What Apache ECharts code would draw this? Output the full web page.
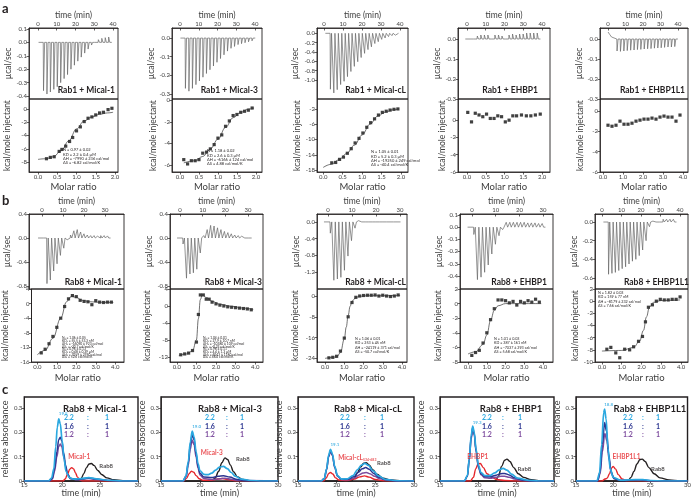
<!DOCTYPE html>
<html>
<head>
<meta charset="utf-8">
<script src="https://cdn.jsdelivr.net/npm/echarts@6/dist/echarts.min.js"></script>
<style>
  html, body { margin: 0; padding: 0; background: #fff; }
  #chart { width: 694px; height: 501px; }
</style>
</head>
<body>
<div id="chart"></div>
<script>
// ---------- tick labels ----------
const molar2Ticks = ['0.0', '0.5', '1.0', '1.5', '2.0'];
const molar4Ticks = ['0.0', '1.0', '2.0', '3.0', '4.0'];
const time40Ticks = ['0', '10', '20', '30', '40'];
const time30Ticks = ['0', '10', '20', '30'];
const secTimeTicks = ['15', '20', '25', '30'];
const secAbsTicks = ['0', '0.1', '0.2', '0.3'];

const a1UcalTicks = ['0.1', '0.0', '-0.1', '-0.2', '-0.3', '-0.4'];
const a2UcalTicks = ['0.0', '-0.1', '-0.2', '-0.3'];
const a3UcalTicks = ['0.0', '-0.2', '-0.4', '-0.6', '-0.8', '-1.0'];
const a4UcalTicks = ['0.0', '-0.1', '-0.2', '-0.3'];
const a5UcalTicks = ['0.0', '-0.1', '-0.2', '-0.3'];
const a1KcalTicks = ['0', '-2', '-4', '-6', '-8'];
const a2KcalTicks = ['0', '-2', '-4', '-6'];
const a3KcalTicks = ['-2', '-6', '-10', '-14', '-18'];
const a4KcalTicks = ['0', '-2', '-4', '-6'];
const a5KcalTicks = ['0', '-2', '-4', '-6'];

const b1UcalTicks = ['0.4', '0.0', '-0.4', '-0.8'];
const b2UcalTicks = ['0.4', '0.0', '-0.4', '-0.8'];
const b3UcalTicks = ['0.0', '-0.4', '-0.8', '-1.2'];
const b4UcalTicks = ['0.1', '0.0', '-0.1', '-0.2', '-0.3', '-0.4'];
const b5UcalTicks = ['0.0', '-0.2', '-0.4', '-0.6'];
const b1KcalTicks = ['4', '0', '-4', '-8', '-12', '-16'];
const b2KcalTicks = ['4', '0', '-4', '-8', '-12'];
const b3KcalTicks = ['0', '-8', '-16', '-24'];
const b4KcalTicks = ['2', '0', '-2', '-4', '-6', '-8'];
const b5KcalTicks = ['2', '0', '-2', '-4', '-6', '-8', '-10'];

// ---------- row a: raw titrations (start time, injection interval, peak heights) ----------
const a1Start = 2.8, a1Step = 1.83;
const a1Peaks = [-0.36, -0.385, -0.37, -0.35, -0.33, -0.30, -0.27, -0.24, -0.20, -0.17, -0.14, -0.11, -0.08, -0.05, -0.02, 0.01, 0.02, 0.03, 0.035, 0.04];
const a2Start = 2.7, a2Step = 1.87;
const a2Peaks = [-0.27, -0.285, -0.27, -0.25, -0.23, -0.21, -0.19, -0.17, -0.15, -0.13, -0.11, -0.09, -0.07, -0.055, -0.045, -0.035, -0.03, -0.025, -0.02, -0.015];
const a3Start = 3.2, a3Step = 1.8;
const a3Peaks = [-1.2, -1.28, -1.21, -1.1, -1.03, -0.93, -0.82, -0.71, -0.61, -0.52, -0.43, -0.35, -0.29, -0.22, -0.18, -0.13, -0.1, -0.07, -0.05, -0.04];
const a4Start = 1.6, a4Step = 1.88;
const a4Peaks = [0.01, -0.01, 0.015, 0.02, 0.02, 0.02, -0.01, 0.02, 0.02, 0.015, -0.01, 0.02, 0.025, 0.02, 0.025, 0.025, 0.03, 0.03, 0.03, 0.03];
const a5Start = 5.0, a5Step = 1.94;
const a5Peaks = [-0.06, -0.062, -0.06, -0.058, -0.056, -0.055, -0.053, -0.052, -0.05, -0.049, -0.048, -0.046, -0.045, -0.044, -0.042, -0.04, -0.04, -0.038];
const a5Drift = [[0, 0.035], [1, 0.022], [2, 0.01], [3, 0.003]];

// ---------- row a: integrated heats ----------
const a1Points = [[0.22, -7.5], [0.32, -7.3], [0.42, -7.2], [0.55, -6.4], [0.62, -6.1], [0.72, -5.6], [0.82, -4.9], [0.9, -4.3], [1.0, -3.3], [1.1, -2.7], [1.2, -1.9], [1.3, -1.4], [1.4, -1.2], [1.5, -0.9], [1.6, -0.6], [1.7, -0.5], [1.82, -0.1], [1.92, 0.1]];
const a1Fit = [[0.0, -7.6], [0.2, -7.5], [0.4, -7.2], [0.6, -6.3], [0.8, -4.8], [1.0, -3.0], [1.2, -1.8], [1.4, -1.2], [1.6, -0.8], [1.8, -0.6], [1.95, -0.5]];
const a2Points = [[0.1, -5.5], [0.2, -5.9], [0.3, -5.6], [0.4, -5.6], [0.5, -5.5], [0.6, -4.9], [0.7, -4.8], [0.8, -4.5], [0.9, -4.1], [1.0, -3.5], [1.1, -3.2], [1.2, -2.4], [1.3, -1.9], [1.4, -1.4], [1.5, -1.3], [1.6, -1.1], [1.7, -1.0], [1.8, -0.9], [1.9, -0.7]];
const a2Fit = [[0.1, -5.8], [0.4, -5.6], [0.6, -5.2], [0.8, -4.5], [1.0, -3.6], [1.2, -2.5], [1.4, -1.6], [1.6, -1.1], [1.8, -0.8], [1.95, -0.7]];
const a3Points = [[0.22, -16.1], [0.32, -16.0], [0.42, -15.2], [0.52, -14.6], [0.62, -13.6], [0.72, -12.4], [0.82, -10.9], [0.92, -9.7], [1.02, -8.3], [1.12, -6.8], [1.22, -5.6], [1.32, -4.6], [1.42, -3.6], [1.52, -2.9], [1.62, -2.6], [1.72, -2.3], [1.82, -2.1], [1.92, -2.0]];
const a3Fit = [[0.0, -17.3], [0.2, -16.5], [0.4, -15.3], [0.6, -13.7], [0.8, -11.5], [1.0, -8.8], [1.2, -6.0], [1.4, -3.9], [1.6, -2.8], [1.8, -2.2], [1.95, -2.0]];
const a4Points = [[0.02, 0.9], [0.12, -0.2], [0.22, 0.8], [0.32, 0.6], [0.42, 0.4], [0.52, 0.7], [0.62, 0.2], [0.72, 0.2], [0.82, 0.5], [0.92, 0.4], [1.02, -0.2], [1.12, 0.0], [1.22, 0.5], [1.32, 0.5], [1.45, 0.6], [1.58, 0.5], [1.7, 0.5], [1.82, 0.6], [1.95, 0.7]];
const a5Points = [[0.25, -1.4], [0.45, -1.5], [0.65, -1.4], [0.85, -1.0], [1.05, -1.3], [1.25, -1.3], [1.45, -1.2], [1.65, -1.0], [1.85, -0.9], [2.05, -0.8], [2.25, -0.8], [2.45, -0.7], [2.65, -0.8], [2.85, -0.6], [3.05, -0.5], [3.25, -0.6], [3.45, -0.6], [3.65, -1.0], [3.85, -0.4]];

const a1Text = ['N = 0.97 ± 0.02', 'KD = 2.2 ± 0.4 µM', 'ΔH = -7990 ± 236 cal/mol', 'ΔS = -6.82 cal/mol/K'];
const a2Text = ['N = 1.18 ± 0.02', 'KD = 2.6 ± 0.3 µM', 'ΔH = -6166 ± 124 cal/mol', 'ΔS = 4.88 cal/mol/K'];
const a3Text = ['N = 1.05 ± 0.01', 'KD = 5.2 ± 0.3 µM', 'ΔH = -19250 ± 249 cal/mol', 'ΔS = -40.4 cal/mol/K'];

// ---------- row b: raw titrations ----------
const b1Start = 0.6, b1Step = 1.6;
const b1Peaks = [0.02, -0.76, -0.7, -0.55, -0.43, -0.29, -0.17, -0.03, 0.05, 0.12, 0.14, 0.1, 0.07, 0.05, 0.04, 0.04, 0.03, 0.04, 0.04, 0.035];
const b2Start = 1.2, b2Step = 1.52;
const b2Peaks = [-0.1, -0.67, -0.6, -0.58, -0.52, -0.25, 0.04, 0.14, 0.21, 0.2, 0.17, 0.14, 0.11, 0.09, 0.07, 0.05, 0.04, 0.03, 0.025, 0.02];
const b3Start = 0.8, b3Step = 1.47;
const b3Peaks = [-0.27, -1.4, -1.37, -1.33, -1.16, -0.82, -0.45, -0.15, 0.03, 0.03, 0.03, 0.03, 0.03, 0.03, 0.03, 0.03, 0.03, 0.025, 0.025, 0.02];
const b4Start = 0.6, b4Step = 1.52;
const b4Peaks = [-0.06, -0.43, -0.41, -0.37, -0.31, -0.22, -0.14, -0.07, -0.02, 0.04, 0.04, 0.04, 0.04, 0.04, 0.04, 0.035, 0.035, 0.035, 0.03, 0.03];
const b5Start = 3.2, b5Step = 1.75;
const b5Peaks = [-0.56, -0.55, -0.54, -0.52, -0.5, -0.48, -0.45, -0.42, -0.4, -0.36, -0.3, -0.2, -0.05, 0.01, 0.02, 0.02, 0.03, 0.03, 0.03, 0.03];

// ---------- row b: integrated heats ----------
const b1Points = [[0.2, -13.5], [0.4, -12.5], [0.6, -11], [0.8, -9], [1.0, -6.5], [1.2, -4], [1.4, -0.8], [1.6, 1.3], [1.8, 2.2], [2.0, 1.9], [2.2, 0.9], [2.4, 0.6], [2.6, 0.5], [2.8, -0.3], [3.0, 0.8], [3.2, 0.4], [3.4, 0.3], [3.6, 0.4], [3.8, 0.4]];
const b1Fit = [[0, -14], [0.4, -12.8], [0.8, -9.5], [1.2, -4], [1.5, 0.5], [1.75, 2.0], [2.0, 1.7], [2.3, 0.9], [2.7, 0.5], [3.2, 0.35], [3.9, 0.3]];
const b2Points = [[0.2, -11.5], [0.4, -11.3], [0.6, -11.1], [0.8, -10.5], [1.0, -8.5], [1.1, -2], [1.2, 2.6], [1.35, 2.6], [1.5, 1.6], [1.65, 1.6], [1.8, 0.9], [2.0, 0.5], [2.2, 0.2], [2.4, 0], [2.6, -0.2], [2.8, -0.3], [3.0, -0.4], [3.2, -0.5], [3.4, -0.6], [3.6, -0.7], [3.8, -0.9]];
const b2Fit = [[0.1, -11.7], [0.5, -11.3], [0.8, -10.6], [1.0, -8], [1.1, -3], [1.2, 1.5], [1.3, 2.6], [1.5, 2.0], [1.8, 1.1], [2.2, 0.4], [2.8, -0.1], [3.4, -0.5], [3.9, -0.8]];
const b3Points = [[0.2, -23.8], [0.4, -23.6], [0.6, -23.2], [0.8, -21.2], [1.0, -16.2], [1.2, -8], [1.4, -2.5], [1.6, -0.5], [1.8, 0], [2.0, 0.2], [2.2, 0.3], [2.4, 0.3], [2.6, 0.4], [2.8, 0], [3.0, 0.3], [3.2, 0], [3.4, -0.2], [3.6, 0], [3.8, 0.4]];
const b3Fit = [[0, -24], [0.6, -23.5], [0.8, -21.8], [1.0, -16.5], [1.1, -12], [1.2, -7.5], [1.3, -4], [1.4, -2], [1.6, -0.6], [1.8, -0.1], [2.2, 0.1], [3.9, 0.2]];
const b4Points = [[0.2, -7.1], [0.4, -6.7], [0.6, -6.4], [0.8, -5.4], [1.0, -4], [1.2, -2.2], [1.4, -0.7], [1.6, 0.5], [1.8, 0.5], [2.0, 0.4], [2.2, 0.1], [2.4, 0.3], [2.6, -0.2], [2.8, 0.3], [3.0, 0.1], [3.2, 0.4], [3.4, 0.2], [3.6, 0.6], [3.8, 0.2]];
const b4Fit = [[0, -6.9], [0.4, -6.6], [0.8, -5.6], [1.0, -4.3], [1.2, -2.3], [1.4, -0.9], [1.6, -0.3], [2.0, 0], [3.9, 0]];
const b5Points = [[0.25, -7.9], [0.45, -7.6], [0.7, -8.5], [0.9, -9.3], [1.15, -7.9], [1.4, -8.0], [1.6, -7.5], [1.85, -6.6], [2.05, -5.8], [2.2, -3.4], [2.35, -1.0], [2.55, -0.6], [2.75, 0.0], [2.95, 0.3], [3.15, 0.2], [3.35, 0.2], [3.55, 0.3], [3.75, 0.3], [3.95, 0.7]];
const b5Fit = [[0, -8.2], [1.0, -8.1], [1.6, -7.6], [1.9, -6.6], [2.1, -4.8], [2.25, -2.6], [2.4, -1.0], [2.6, -0.2], [3.0, 0.1], [3.95, 0.2]];

const b1Text = ['N₁ = 1.06 ± 0.05', 'KD₁ = 55.5 ± 53.3 nM', 'ΔH₁ = -16090 ± 923 cal/mol', 'ΔS₁ = -20.7 cal/mol/K', 'N₂ = 0.96 ± 0.13', 'KD₂ = 0.48 ± 0.39 µM', 'ΔH₂ = 7059 ± 2390 cal/mol', 'ΔS₂ = 52.6 cal/mol/K'];
const b2Text = ['N₁ = 1.04 ± 0.01', 'KD₁ = 27.9 ± 10.7 nM', 'ΔH₁ = -10380 ± 109 cal/mol', 'ΔS₁ = -0.23 cal/mol/K', 'N₂ = 0.98 ± 0.11', 'KD₂ = 4.4 ± 1.3 µM', 'ΔH₂ = 6043 ± 1180 cal/mol', 'ΔS₂ = 46.4 cal/mol/K'];
const b3Text = ['N = 1.06 ± 0.01', 'KD = 253 ± 45 nM', 'ΔH = -24119 ± 371 cal/mol', 'ΔS = -50.7 cal/mol/K'];
const b4Text = ['N = 1.01 ± 0.03', 'KD = 387 ± 161 nM', 'ΔH = -7037 ± 293 cal/mol', 'ΔS = 5.68 cal/mol/K'];
const b5Text = ['N = 1.82 ± 0.03', 'KD = 159 ± 77 nM', 'ΔH = -8179 ± 232 cal/mol', 'ΔS = 7.66 cal/mol/K'];

// ---------- row c: size exclusion traces [time, absorbance] ----------
const c1Cyan = [[15, 0], [18.2, 0], [18.6, 0.012], [18.9, 0.05], [19.15, 0.14], [19.35, 0.22], [19.55, 0.255], [19.75, 0.235], [20, 0.165], [20.25, 0.09], [20.5, 0.04], [20.9, 0.015], [21.5, 0.008], [22.5, 0.01], [23.5, 0.014], [24.5, 0.009], [26, 0.003], [28, 0], [30, 0]];
const c1Navy = [[15, 0], [18.3, 0], [18.7, 0.01], [19, 0.05], [19.3, 0.12], [19.55, 0.17], [19.75, 0.18], [19.95, 0.165], [20.2, 0.115], [20.45, 0.065], [20.7, 0.03], [21.1, 0.01], [22, 0.006], [23.5, 0.012], [24.5, 0.008], [26, 0.002], [28, 0], [30, 0]];
const c1Purple = [[15, 0], [18.3, 0], [18.7, 0.008], [19, 0.04], [19.3, 0.1], [19.55, 0.142], [19.75, 0.152], [19.95, 0.14], [20.2, 0.1], [20.45, 0.058], [20.7, 0.027], [21.1, 0.009], [22, 0.005], [23.5, 0.01], [24.5, 0.006], [26, 0.002], [28, 0], [30, 0]];
const c1Red = [[15, 0], [20.1, 0], [20.4, 0.008], [20.7, 0.028], [21, 0.048], [21.25, 0.055], [21.5, 0.05], [21.75, 0.034], [22, 0.017], [22.3, 0.005], [22.7, 0], [30, 0]];
const c1Black = [[15, 0], [22.2, 0], [22.5, 0.01], [22.85, 0.03], [23.2, 0.055], [23.55, 0.07], [23.85, 0.072], [24.2, 0.064], [24.7, 0.043], [25.2, 0.027], [25.9, 0.013], [26.8, 0.005], [28, 0.001], [30, 0]];

const c2Cyan = [[15, 0], [17.8, 0], [18.2, 0.02], [18.5, 0.08], [18.75, 0.16], [19, 0.205], [19.25, 0.18], [19.5, 0.12], [19.75, 0.07], [20, 0.042], [20.5, 0.027], [21, 0.026], [21.5, 0.032], [22, 0.045], [22.5, 0.057], [23, 0.06], [23.5, 0.051], [24, 0.035], [24.5, 0.02], [25.3, 0.008], [26.5, 0.002], [28, 0], [30, 0]];
const c2Navy = [[15, 0], [17.8, 0], [18.2, 0.02], [18.5, 0.075], [18.75, 0.15], [19, 0.19], [19.25, 0.168], [19.5, 0.11], [19.75, 0.06], [20, 0.032], [20.5, 0.016], [21.5, 0.014], [22.3, 0.019], [23, 0.022], [23.8, 0.016], [24.8, 0.006], [26, 0.001], [30, 0]];
const c2Purple = [[15, 0], [17.9, 0], [18.25, 0.02], [18.5, 0.065], [18.75, 0.13], [19, 0.168], [19.25, 0.148], [19.5, 0.098], [19.75, 0.052], [20, 0.025], [20.5, 0.01], [21.5, 0.006], [22.5, 0.009], [23.2, 0.011], [24, 0.007], [25, 0.002], [30, 0]];
const c2Red = [[15, 0], [17.9, 0], [18.3, 0.012], [18.6, 0.03], [18.9, 0.04], [19.2, 0.036], [19.5, 0.022], [19.9, 0.009], [20.4, 0.003], [21.5, 0.003], [22.3, 0.008], [22.9, 0.01], [23.6, 0.006], [24.5, 0.001], [30, 0]];
const c2Black = [[15, 0], [21.5, 0], [21.9, 0.01], [22.4, 0.04], [22.8, 0.075], [23.2, 0.095], [23.55, 0.088], [23.9, 0.065], [24.3, 0.038], [24.8, 0.017], [25.5, 0.006], [26.5, 0.001], [30, 0]];

const c3Cyan = [[15, 0], [18, 0], [18.4, 0.01], [18.7, 0.05], [18.95, 0.105], [19.2, 0.13], [19.45, 0.112], [19.75, 0.06], [20.1, 0.022], [20.6, 0.008], [21.4, 0.009], [22.1, 0.022], [22.7, 0.047], [23.2, 0.065], [23.65, 0.072], [24.1, 0.064], [24.7, 0.042], [25.4, 0.021], [26.3, 0.007], [27.8, 0.001], [30, 0]];
const c3Navy = [[15, 0], [18, 0], [18.4, 0.01], [18.7, 0.048], [18.95, 0.1], [19.2, 0.125], [19.45, 0.108], [19.75, 0.058], [20.1, 0.021], [20.6, 0.007], [21.4, 0.007], [22.2, 0.017], [22.8, 0.036], [23.3, 0.05], [23.75, 0.055], [24.2, 0.048], [24.8, 0.031], [25.5, 0.015], [26.4, 0.005], [28, 0], [30, 0]];
const c3Purple = [[15, 0], [18, 0], [18.4, 0.01], [18.7, 0.046], [18.95, 0.097], [19.2, 0.121], [19.45, 0.104], [19.75, 0.055], [20.1, 0.02], [20.6, 0.006], [21.4, 0.005], [22.3, 0.012], [22.9, 0.025], [23.4, 0.033], [23.85, 0.035], [24.3, 0.03], [24.9, 0.019], [25.6, 0.009], [26.5, 0.003], [28, 0], [30, 0]];
const c3Red = [[15, 0], [18.3, 0], [18.65, 0.012], [18.95, 0.03], [19.2, 0.035], [19.5, 0.029], [19.85, 0.013], [20.3, 0.004], [21.3, 0.002], [22.3, 0.008], [23, 0.017], [23.6, 0.021], [24.2, 0.016], [25, 0.006], [26, 0.001], [30, 0]];
const c3Black = [[15, 0], [21.9, 0], [22.3, 0.012], [22.7, 0.035], [23.1, 0.058], [23.5, 0.073], [23.8, 0.075], [24.2, 0.066], [24.7, 0.045], [25.2, 0.028], [26, 0.012], [27, 0.004], [28.5, 0], [30, 0]];

const c4Cyan = [[15, 0], [18.2, 0], [18.6, 0.022], [18.85, 0.09], [19.1, 0.185], [19.3, 0.225], [19.5, 0.2], [19.75, 0.13], [20.05, 0.065], [20.4, 0.035], [20.9, 0.022], [21.5, 0.022], [22.2, 0.033], [22.8, 0.046], [23.3, 0.052], [23.8, 0.045], [24.4, 0.028], [25.2, 0.012], [26.5, 0.003], [28, 0], [30, 0]];
const c4Navy = [[15, 0], [18.2, 0], [18.6, 0.02], [18.85, 0.088], [19.1, 0.18], [19.3, 0.22], [19.5, 0.195], [19.75, 0.125], [20.05, 0.06], [20.4, 0.03], [20.9, 0.018], [21.6, 0.017], [22.4, 0.024], [23, 0.03], [23.5, 0.031], [24.1, 0.025], [24.8, 0.013], [25.8, 0.004], [27, 0], [30, 0]];
const c4Purple = [[15, 0], [18.2, 0], [18.6, 0.019], [18.85, 0.085], [19.1, 0.173], [19.3, 0.212], [19.5, 0.19], [19.75, 0.12], [20.05, 0.056], [20.4, 0.026], [20.9, 0.013], [21.6, 0.011], [22.4, 0.015], [23, 0.019], [23.5, 0.02], [24.1, 0.015], [24.8, 0.008], [25.8, 0.002], [27, 0], [30, 0]];
const c4Red = [[15, 0], [19, 0], [19.4, 0.015], [19.7, 0.05], [20, 0.07], [20.3, 0.072], [20.7, 0.055], [21.2, 0.03], [21.8, 0.015], [22.5, 0.006], [23.5, 0.002], [25, 0], [30, 0]];
const c4Black = [[15, 0], [22.3, 0], [22.7, 0.02], [23.1, 0.06], [23.5, 0.085], [23.8, 0.09], [24.2, 0.08], [24.7, 0.055], [25.3, 0.03], [26, 0.015], [27, 0.005], [28.5, 0], [30, 0]];

const c5Cyan = [[15, 0], [17.8, 0], [18.15, 0.03], [18.45, 0.15], [18.72, 0.28], [18.85, 0.295], [19.05, 0.255], [19.3, 0.135], [19.6, 0.05], [20, 0.015], [21, 0.003], [23, 0.006], [24, 0.006], [25, 0.002], [27, 0], [30, 0]];
const c5Navy = [[15, 0], [17.9, 0], [18.25, 0.04], [18.55, 0.15], [18.85, 0.24], [19.1, 0.205], [19.4, 0.11], [19.7, 0.04], [20.1, 0.01], [21, 0.002], [23.5, 0.005], [25, 0.001], [30, 0]];
const c5Purple = [[15, 0], [17.9, 0], [18.25, 0.03], [18.55, 0.12], [18.88, 0.195], [19.15, 0.165], [19.45, 0.088], [19.75, 0.032], [20.15, 0.009], [21, 0.002], [23.5, 0.004], [25, 0.001], [30, 0]];
const c5Red = [[15, 0], [18.5, 0], [18.9, 0.008], [19.2, 0.012], [19.5, 0.03], [19.8, 0.054], [20, 0.06], [20.3, 0.05], [20.7, 0.026], [21.2, 0.008], [21.8, 0.001], [30, 0]];
const c5Black = [[15, 0], [22, 0], [22.4, 0.015], [22.8, 0.04], [23.2, 0.07], [23.6, 0.088], [23.9, 0.09], [24.3, 0.08], [24.8, 0.055], [25.5, 0.03], [26.3, 0.013], [27.5, 0.004], [29, 0], [30, 0]];

const secTitles = ['Rab8 + Mical-1', 'Rab8 + Mical-3', 'Rab8 + Mical-cL', 'Rab8 + EHBP1', 'Rab8 + EHBP1L1'];
const secPartners = ['Mical-1', 'Mical-3', 'Mical-cL', 'EHBP1', 'EHBP1L1'];
const secPeakTimes = ['19.5', '19.0', '19.1', '19.3', '18.8'];
const ratios = [['2.2', ':', '1'], ['1.6', ':', '1'], ['1.2', ':', '1']];

// ---------- drawing ----------
const FONT = 'Lato, "Open Sans", "Noto Sans", sans-serif';
const INK = '#231f20';
const TXT = '#3d3d3d';
const CYAN = '#2aa8e0', NAVY = '#2c3590', PURPLE = '#7d4c9e', RED = '#e5262b';

const grids = [], xAxes = [], yAxes = [], series = [], graphic = [];

function nearest(vals, v) {
  let k = 0;
  vals.forEach(function (t, i) { if (Math.abs(t - v) < Math.abs(vals[k] - v)) k = i; });
  return k;
}

function tickAxis(labels, min, max, extra) {
  const vals = labels.map(Number);
  const ax = {
    type: 'value', min: min, max: max,
    splitLine: { show: false },
    axisLine: { show: true, onZero: false, lineStyle: { color: INK, width: 0.8 } },
    axisTick: { show: true, length: 2.5, customValues: vals, lineStyle: { color: INK, width: 0.7 } },
    axisLabel: {
      show: true, customValues: vals, fontSize: 6, color: TXT, margin: 2, fontFamily: FONT,
      formatter: function (v) { return labels[nearest(vals, v)]; }
    },
    nameTextStyle: { fontFamily: FONT, color: TXT, fontSize: 8.5 }
  };
  return Object.assign(ax, extra || {});
}

function addPanel(box, xa, ya, border) {
  const gi = grids.length;
  grids.push({
    left: box[0], top: box[1], width: box[2] - box[0], height: box[3] - box[1],
    show: true, borderColor: INK, borderWidth: border || 0.9, backgroundColor: 'rgba(0,0,0,0)'
  });
  xa.gridIndex = gi; ya.gridIndex = gi;
  xAxes.push(xa); yAxes.push(ya);
  return gi;
}

function addText(x, y, text, o) {
  o = o || {};
  graphic.push({
    type: 'text', x: x, y: y, silent: true, z: 50,
    style: {
      text: text, fill: o.color || INK, fontFamily: FONT,
      fontSize: o.size || 8, fontWeight: o.weight || 'normal',
      textAlign: o.align || 'left', align: o.align || 'left',
      textVerticalAlign: o.valign || 'middle', verticalAlign: o.valign || 'middle',
      lineHeight: o.lh || undefined
    }
  });
}

function spikeTrace(start, step, peaks, lead) {
  const pts = lead ? lead.slice() : [[start - 2.5, 0]];
  peaks.forEach(function (p, i) {
    const t = start + i * step;
    pts.push([t, 0], [t + 0.15, p], [t + 0.75, 0]);
  });
  pts.push([start + peaks.length * step, 0]);
  return pts;
}

function itcColumn(o) {
  const tx = tickAxis(o.timeTicks, o.time[0], o.time[1], {
    position: 'top', name: 'time (min)', nameLocation: 'middle', nameGap: o.timeGap
  });
  tx.axisTick.inside = true;
  tx.axisLabel.margin = 1;
  const ty = tickAxis(o.ucalTicks, o.ucal[0], o.ucal[1], {
    name: 'µcal/sec', nameLocation: 'middle', nameRotate: 90, nameGap: o.ucalGap
  });
  const gt = addPanel(o.top, tx, ty);
  series.push({
    type: 'line', xAxisIndex: gt, yAxisIndex: gt, data: spikeTrace(o.start, o.step, o.peaks, o.lead),
    showSymbol: false, symbol: 'none', silent: true, lineStyle: { color: '#666', width: 0.7 }
  });
  addText(o.titleX, o.titleY, o.title, { size: 8.5, weight: 'bold', align: 'right' });

  const bx = tickAxis(o.molarTicks, o.molar[0], o.molar[1], {
    name: 'Molar ratio', nameLocation: 'middle', nameGap: o.molarGap
  });
  bx.nameTextStyle = { fontFamily: FONT, color: TXT, fontSize: 9.5 };
  const by = tickAxis(o.kcalTicks, o.kcal[0], o.kcal[1], {
    name: 'kcal/mole injectant', nameLocation: 'middle', nameRotate: 90, nameGap: o.kcalGap
  });
  const gb = addPanel(o.bot, bx, by);
  if (o.fit) {
    series.push({
      type: 'line', xAxisIndex: gb, yAxisIndex: gb, data: o.fit, smooth: 0.4, smoothMonotone: 'x',
      showSymbol: false, symbol: 'none', silent: true, lineStyle: { color: '#333', width: 0.7 }
    });
  }
  series.push({
    type: 'scatter', xAxisIndex: gb, yAxisIndex: gb, data: o.points, symbol: 'rect', symbolSize: 3.2,
    silent: true, itemStyle: { color: '#111' }
  });
  if (o.text) {
    addText(o.textAt[0], o.textAt[1], o.text.join('\n'), { size: o.textSize, lh: o.textLh, valign: 'top' });
  }
}

// row a
itcColumn({ top: [29, 28, 118, 99], bot: [29, 99, 118, 172], timeTicks: time40Ticks, time: [-4.8, 42.7], timeGap: 8,
  ucalTicks: a1UcalTicks, ucal: [-0.422, 0.107], ucalGap: 11.5, start: a1Start, step: a1Step, peaks: a1Peaks,
  title: 'Rab1 + Mical-1', titleX: 115, titleY: 90,
  molarTicks: molar2Ticks, molar: [-0.234, 2.078], molarGap: 10, kcalTicks: a1KcalTicks, kcal: [-9.5, 1.5], kcalGap: 17.5,
  points: a1Points, fit: a1Fit, text: a1Text, textAt: [63, 148], textSize: 4, textLh: 4.3 });
itcColumn({ top: [172, 28, 262, 99], bot: [172, 99, 262, 172], timeTicks: time40Ticks, time: [-4.3, 43.7], timeGap: 8,
  ucalTicks: a2UcalTicks, ucal: [-0.327, 0.054], ucalGap: 14.5, start: a2Start, step: a2Step, peaks: a2Peaks,
  title: 'Rab1 + Mical-3', titleX: 258, titleY: 90,
  molarTicks: molar2Ticks, molar: [-0.21, 2.16], molarGap: 10, kcalTicks: a2KcalTicks, kcal: [-6.65, 0.14], kcalGap: 14.5,
  points: a2Points, fit: a2Fit, text: a2Text, textAt: [207, 149], textSize: 4, textLh: 4.3 });
itcColumn({ top: [317, 28, 408, 99], bot: [317, 99, 408, 172], timeTicks: time40Ticks, time: [-3.7, 44.2], timeGap: 8,
  ucalTicks: a3UcalTicks, ucal: [-1.41, 0.114], ucalGap: 17.5, start: a3Start, step: a3Step, peaks: a3Peaks,
  title: 'Rab1 + Mical-cL', titleX: 406, titleY: 90,
  molarTicks: molar2Ticks, molar: [-0.16, 2.18], molarGap: 10, kcalTicks: a3KcalTicks, kcal: [-18.5, 0.6], kcalGap: 15.5,
  points: a3Points, fit: a3Fit, text: a3Text, textAt: [371, 150], textSize: 4, textLh: 4.3 });
itcColumn({ top: [458, 28, 550, 99], bot: [458, 99, 550, 172], timeTicks: time40Ticks, time: [-4.8, 44.3], timeGap: 8,
  ucalTicks: a4UcalTicks, ucal: [-0.3, 0.055], ucalGap: 15.5, start: a4Start, step: a4Step, peaks: a4Peaks,
  title: 'Rab1 + EHBP1', titleX: 538, titleY: 90,
  molarTicks: molar2Ticks, molar: [-0.24, 2.21], molarGap: 10, kcalTicks: a4KcalTicks, kcal: [-6.0, 2.45], kcalGap: 11.5,
  points: a4Points });
itcColumn({ top: [600, 28, 688, 99], bot: [600, 99, 688, 172], timeTicks: time40Ticks, time: [-4.6, 45.7], timeGap: 8,
  ucalTicks: a5UcalTicks, ucal: [-0.3, 0.055], ucalGap: 13.5, start: a5Start, step: a5Step, peaks: a5Peaks, lead: a5Drift,
  title: 'Rab1 + EHBP1L1', titleX: 685, titleY: 90,
  molarTicks: molar4Ticks, molar: [-0.15, 4.25], molarGap: 10, kcalTicks: a5KcalTicks, kcal: [-6.0, 1.18], kcalGap: 15.5,
  points: a5Points });

// row b
itcColumn({ top: [29, 214, 124, 289], bot: [29, 289, 124, 362], timeTicks: time30Ticks, time: [-6.2, 39], timeGap: 8,
  ucalTicks: b1UcalTicks, ucal: [-0.85, 0.4], ucalGap: 17.5, start: b1Start, step: b1Step, peaks: b1Peaks,
  title: 'Rab8 + Mical-1', titleX: 122, titleY: 282,
  molarTicks: molar4Ticks, molar: [-0.3, 4.45], molarGap: 11, kcalTicks: b1KcalTicks, kcal: [-16, 4], kcalGap: 21.5,
  points: b1Points, fit: b1Fit, text: b1Text, textAt: [62, 337], textSize: 3.3, textLh: 2.7 });
itcColumn({ top: [170, 214, 263, 289], bot: [170, 289, 263, 362], timeTicks: time30Ticks, time: [-4.4, 36.6], timeGap: 8,
  ucalTicks: b2UcalTicks, ucal: [-0.85, 0.4], ucalGap: 16.5, start: b2Start, step: b2Step, peaks: b2Peaks,
  title: 'Rab8 + Mical-3', titleX: 262, titleY: 282,
  molarTicks: molar4Ticks, molar: [-0.35, 4.4], molarGap: 11, kcalTicks: b2KcalTicks, kcal: [-13.2, 4], kcalGap: 18.5,
  points: b2Points, fit: b2Fit, text: b2Text, textAt: [203, 337], textSize: 3.3, textLh: 2.7 });
itcColumn({ top: [317, 214, 407, 289], bot: [317, 289, 407, 362], timeTicks: time30Ticks, time: [-4.6, 32.9], timeGap: 8,
  ucalTicks: b3UcalTicks, ucal: [-1.61, 0.19], ucalGap: 14.5, start: b3Start, step: b3Step, peaks: b3Peaks,
  title: 'Rab8 + Mical-cL', titleX: 406, titleY: 282,
  molarTicks: molar4Ticks, molar: [-0.42, 4.26], molarGap: 11, kcalTicks: b3KcalTicks, kcal: [-25.4, 2.7], kcalGap: 17.5,
  points: b3Points, fit: b3Fit, text: b3Text, textAt: [355, 337], textSize: 3.7, textLh: 4.2 });
itcColumn({ top: [460, 214, 553, 289], bot: [460, 289, 553, 362], timeTicks: time30Ticks, time: [-5.1, 34.2], timeGap: 8,
  ucalTicks: b4UcalTicks, ucal: [-0.507, 0.108], ucalGap: 14.5, start: b4Start, step: b4Step, peaks: b4Peaks,
  title: 'Rab8 + EHBP1', titleX: 547, titleY: 282,
  molarTicks: molar4Ticks, molar: [-0.43, 4.53], molarGap: 11, kcalTicks: b4KcalTicks, kcal: [-8, 2], kcalGap: 17.5,
  points: b4Points, fit: b4Fit, text: b4Text, textAt: [494, 337], textSize: 3.7, textLh: 4.2 });
itcColumn({ top: [595, 214, 688, 289], bot: [595, 289, 688, 362], timeTicks: time40Ticks, time: [-3.6, 44.1], timeGap: 8,
  ucalTicks: b5UcalTicks, ucal: [-0.718, 0.086], ucalGap: 12.5, start: b5Start, step: b5Step, peaks: b5Peaks,
  title: 'Rab8 + EHBP1L1', titleX: 689, titleY: 282,
  molarTicks: molar4Ticks, molar: [-0.35, 4.35], molarGap: 11, kcalTicks: b5KcalTicks, kcal: [-10, 2], kcalGap: 12.5,
  points: b5Points, fit: b5Fit, text: b5Text, textAt: [598, 291], textSize: 3.7, textLh: 4.2 });

// row c
const secBoxes = [[22, 397, 138, 481], [161, 397, 278, 481], [298, 397, 414, 481], [440, 397, 554, 481], [576, 397, 690, 481]];
const secCurves = [
  [c1Black, c1Red, c1Purple, c1Navy, c1Cyan],
  [c2Black, c2Red, c2Purple, c2Navy, c2Cyan],
  [c3Black, c3Red, c3Purple, c3Navy, c3Cyan],
  [c4Black, c4Red, c4Purple, c4Navy, c4Cyan],
  [c5Black, c5Red, c5Purple, c5Navy, c5Cyan]
];
const curveColors = [INK, RED, PURPLE, NAVY, CYAN];
const curveWidths = [1.4, 1.4, 1.5, 1.5, 1.7];
const secTitleX = [95, 230, 368, 511, 650];
const secRatioX = [[69, 88, 107], [210, 227, 242], [345, 365, 382], [487, 503, 520], [628, 643, 658]];
const ratioColors = [CYAN, NAVY, PURPLE];
const secPeakPos = [[19.55, 0.275], [19.0, 0.222], [19.2, 0.148], [19.3, 0.242], [18.8, 0.315]];
const secPartnerPos = [[20.8, 0.1], [20.1, 0.115], [20.2, 0.095], [18.6, 0.1], [19.9, 0.098]];
const secRabPos = [[24.9, 0.06], [24.6, 0.09], [25.2, 0.075], [25.2, 0.05], [25.1, 0.05]];

function annot(gi, pt, formatter, color, size, rich) {
  series.push({
    type: 'scatter', xAxisIndex: gi, yAxisIndex: gi, data: [pt], symbolSize: 0, silent: true, z: 6,
    label: {
      show: true, position: 'inside', formatter: formatter, color: color, fontSize: size,
      fontWeight: 'bold', fontFamily: FONT, align: 'left', verticalAlign: 'middle', rich: rich
    }
  });
}

secBoxes.forEach(function (box, k) {
  const sx = tickAxis(secTimeTicks, 15, 30, { name: 'time (min)', nameLocation: 'middle', nameGap: 7.5 });
  sx.nameTextStyle = { fontFamily: FONT, color: TXT, fontSize: 9 };
  sx.axisLabel.margin = 1;
  const sy = tickAxis(secAbsTicks, 0, 0.345, { name: 'relative absorbance', nameLocation: 'middle', nameRotate: 90, nameGap: 11 });
  sy.nameTextStyle = { fontFamily: FONT, color: TXT, fontSize: 9 };
  const gi = addPanel(box, sx, sy, 1.4);
  secCurves[k].forEach(function (c, j) {
    series.push({
      type: 'line', xAxisIndex: gi, yAxisIndex: gi, data: c, smooth: 0.35, smoothMonotone: 'x',
      showSymbol: false, symbol: 'none', silent: true, z: 2 + j,
      lineStyle: { color: curveColors[j], width: curveWidths[j] }
    });
  });
  addText(secTitleX[k], 409, secTitles[k], { size: 9.5, weight: 'bold', align: 'center' });
  ratios.forEach(function (row, r) {
    row.forEach(function (s, i) {
      addText(secRatioX[k][i], 418 + r * 8.5, s, { size: 7, weight: 'bold', align: 'center', color: ratioColors[r] });
    });
  });
  annot(gi, secPeakPos[k], secPeakTimes[k], CYAN, 4.5);
  annot(gi, secRabPos[k], 'Rab8', INK, 6);
  if (k === 2) {
    annot(gi, secPartnerPos[k], '{m|Mical-cL}{s|534-683}', RED, 6.5, {
      m: { fontSize: 6.5, fontWeight: 'bold', color: RED, fontFamily: FONT },
      s: { fontSize: 3.5, fontWeight: 'bold', color: RED, fontFamily: FONT, verticalAlign: 'bottom', padding: [4, 0, 0, 0] }
    });
  } else {
    annot(gi, secPartnerPos[k], secPartners[k], RED, 6.5);
  }
});

// panel letters
addText(2, 9, 'a', { size: 13, weight: 'bold' });
addText(2, 201, 'b', { size: 13, weight: 'bold' });
addText(2, 390, 'c', { size: 13, weight: 'bold' });

const chart = echarts.init(document.getElementById('chart'), null, { renderer: 'canvas' });
chart.setOption({
  animation: false,
  backgroundColor: '#ffffff',
  textStyle: { fontFamily: FONT },
  grid: grids,
  xAxis: xAxes,
  yAxis: yAxes,
  series: series,
  graphic: graphic
});
</script>
</body>
</html>
